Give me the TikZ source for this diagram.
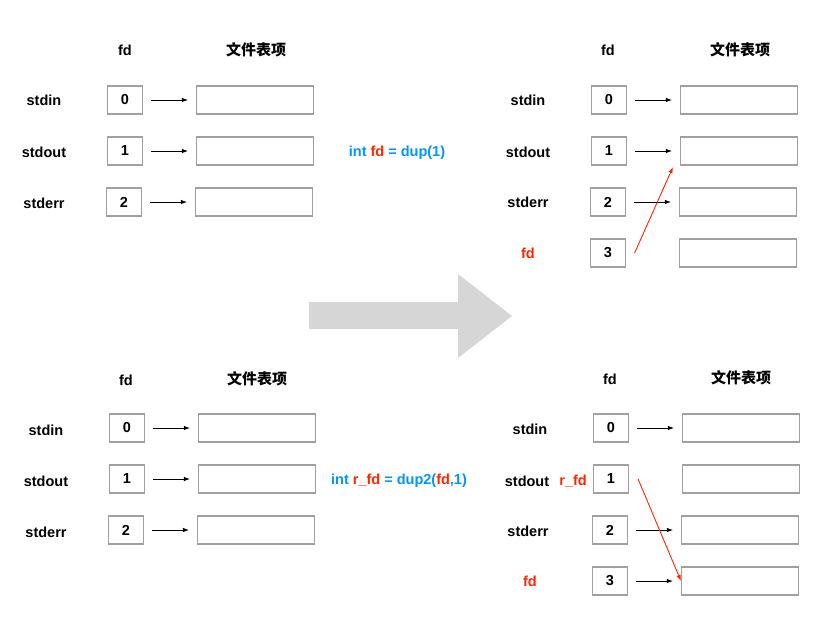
\documentclass[tikz,border=0pt]{standalone}
\usepackage{fontspec}
\setmainfont{Liberation Sans}
\newfontfamily\cjk{Noto Sans CJK SC}
\usetikzlibrary{arrows.meta}
\definecolor{fdred}{RGB}{255,38,0}
\definecolor{fdblue}{RGB}{0,150,255}
\definecolor{boxgray}{RGB}{160,160,160}
\definecolor{biggray}{RGB}{214,214,214}

\begin{document}
\begin{tikzpicture}[x=1pt, y=-1pt,
	every node/.style={font=\fontsize{14.5pt}{17pt}\selectfont\bfseries},
	hdrcn/.style={font=\fontsize{15pt}{17pt}\selectfont\cjk\bfseries},
	fdbox/.style={draw=boxgray, line width=1.1pt, minimum width=35pt, minimum height=28pt, inner sep=0pt},
	entry/.style={draw=boxgray, line width=1.1pt, minimum width=117pt, minimum height=28pt, inner sep=0pt},
	ptr/.style={-{Latex[length=6pt,width=4.5pt]}, line width=0.9pt, shorten <=8pt, shorten >=8pt},
	redptr/.style={-{Latex[length=6pt,width=4.5pt]}, line width=0.9pt, fdred}]
	\useasboundingbox (0,0) rectangle (818,626);

	% Before dup(1)
	\node (a-fd) at (125,50) {fd};
	\node[hdrcn] (a-tab) at (256,50) {文件表项};
	\node (a-l0) at (44,100) {stdin};
	\node (a-l1) at (44,152) {stdout};
	\node (a-l2) at (44,203) {stderr};
	\node[fdbox] (a-0) at (125,100) {0};
	\node[fdbox] (a-1) at (125,151) {1};
	\node[fdbox] (a-2) at (124,202) {2};
	\node[entry] (a-e0) at (255,100) {};
	\node[entry] (a-e1) at (255,151) {};
	\node[entry] (a-e2) at (254,202) {};
	\draw[ptr] (a-0) -- (a-e0);
	\draw[ptr] (a-1) -- (a-e1);
	\draw[ptr] (a-2) -- (a-e2);
	\node[text=fdblue] (dup) at (397,153) {int \textcolor{fdred}{fd} = dup(1)};

	% After dup(1)
	\node (b-fd) at (608,50) {fd};
	\node[hdrcn] (b-tab) at (740,50) {文件表项};
	\node (b-l0) at (528,100) {stdin};
	\node (b-l1) at (528,152) {stdout};
	\node (b-l2) at (528,202) {stderr};
	\node[text=fdred] (b-l3) at (528,253) {fd};
	\node[fdbox] (b-0) at (609,100) {0};
	\node[fdbox] (b-1) at (609,151) {1};
	\node[fdbox] (b-2) at (608,202) {2};
	\node[fdbox] (b-3) at (608,253) {3};
	\node[entry] (b-e0) at (739,100) {};
	\node[entry] (b-e1) at (739,151) {};
	\node[entry] (b-e2) at (738,202) {};
	\node[entry] (b-e3) at (738,253) {};
	\draw[ptr] (b-0) -- (b-e0);
	\draw[ptr] (b-1) -- (b-e1);
	\draw[ptr] (b-2) -- (b-e2);
	\draw[redptr] ([xshift=8.5pt]b-3.east) -- ([xshift=-7pt,yshift=-1.5pt]b-e1.south west);

	% The big arrow
	\fill[biggray] (309,302) -- (458,302) -- (458,274) -- (512,316) -- (458,358) -- (458,329) -- (309,329) -- cycle;

	% Before dup2(fd,1)
	\node (c-fd) at (126,380) {fd};
	\node[hdrcn] (c-tab) at (257,379) {文件表项};
	\node (c-l0) at (46,430) {stdin};
	\node (c-l1) at (46,481) {stdout};
	\node (c-l2) at (46,532) {stderr};
	\node[fdbox] (c-0) at (127,428) {0};
	\node[fdbox] (c-1) at (127,479) {1};
	\node[fdbox] (c-2) at (126,530) {2};
	\node[entry] (c-e0) at (257,428) {};
	\node[entry] (c-e1) at (257,479) {};
	\node[entry] (c-e2) at (256,530) {};
	\draw[ptr] (c-0) -- (c-e0);
	\draw[ptr] (c-1) -- (c-e1);
	\draw[ptr] (c-2) -- (c-e2);
	\node[text=fdblue] (dup2) at (399,481) {int \textcolor{fdred}{r\_fd} = dup2(\textcolor{fdred}{fd},1)};

	% After dup2(fd,1)
	\node (d-fd) at (610,379) {fd};
	\node[hdrcn] (d-tab) at (741,378) {文件表项};
	\node (d-l0) at (530,429) {stdin};
	\node (d-l1) at (527,481) {stdout};
	\node[text=fdred] (d-r) at (573,481) {r\_fd};
	\node (d-l2) at (528,531) {stderr};
	\node[text=fdred] (d-l3) at (530,581) {fd};
	\node[fdbox] (d-0) at (611,428) {0};
	\node[fdbox] (d-1) at (611,479) {1};
	\node[fdbox] (d-2) at (610,530) {2};
	\node[fdbox] (d-3) at (610,581) {3};
	\node[entry] (d-e0) at (741,428) {};
	\node[entry] (d-e1) at (741,479) {};
	\node[entry] (d-e2) at (740,530) {};
	\node[entry] (d-e3) at (740,581) {};
	\draw[ptr] (d-0) -- (d-e0);
	\draw[ptr] (d-2) -- (d-e2);
	\draw[ptr] (d-3) -- (d-e3);
	\draw[redptr] ([xshift=9pt]d-1.east) -- (d-e3.west);
\end{tikzpicture}
\end{document}
